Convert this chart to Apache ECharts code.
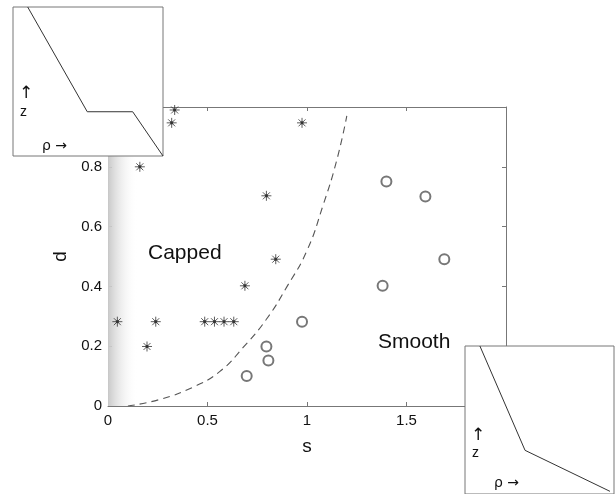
<!DOCTYPE html>
<html>
<head>
<meta charset="utf-8">
<script src="https://cdn.jsdelivr.net/npm/echarts@6/dist/echarts.min.js"></script>
<style>
  html, body { margin: 0; padding: 0; background: #fff; }
  #chart { width: 615px; height: 494px; }
</style>
</head>
<body>
<div id="chart"></div>
<script>
// Regime map: capped (*) vs smooth (o) profiles in the (s, d) plane
var starS = [0.335, 0.32, 0.16, 0.975, 0.796, 0.843, 0.688, 0.047, 0.24, 0.196, 0.486, 0.535, 0.583, 0.632];
var starD = [0.99, 0.947, 0.80, 0.947, 0.703, 0.491, 0.402, 0.282, 0.282, 0.199, 0.282, 0.282, 0.282, 0.282];
var circleS = [0.975, 0.796, 0.806, 0.697, 1.399, 1.595, 1.69, 1.38];
var circleD = [0.282, 0.199, 0.152, 0.10, 0.751, 0.701, 0.491, 0.402];

// Dashed regime boundary, sampled along the curve
var boundaryS = [0.10, 0.26, 0.427, 0.561, 0.678, 0.796, 0.90, 1.00, 1.08, 1.148, 1.20];
var boundaryD = [0.0, 0.022, 0.063, 0.115, 0.195, 0.29, 0.40, 0.52, 0.67, 0.818, 0.97];

// Shaded strip near s = 0
var shadeStart = 0;
var shadeEnd = 0.15;

// Axis ticks
var xTicks = ['0', '0.5', '1', '1.5', '2'];
var yTicks = ['0', '0.2', '0.4', '0.6', '0.8', '1'];

// Inset profiles z(rho), normalised to the inset box
var cappedRho = [0.098, 0.495, 0.798, 1.0];
var cappedZ = [1.0, 0.297, 0.297, 0.0];
var smoothRho = [0.10, 0.403, 0.973];
var smoothZ = [1.0, 0.295, 0.018];

function zip(a, b) { return a.map(function (v, i) { return [v, b[i]]; }); }

var FONT = 'Liberation Sans';
var AXIS = '#777';
var INK = '#111';

var starPath = 'path://M5,0L5,10M0,5L10,5M1.5,1.5L8.5,8.5M8.5,1.5L1.5,8.5M4,4L6,4L6,6L4,6Z';

var chart = echarts.init(document.getElementById('chart'), null, { renderer: 'canvas' });

var insetAxisX = function (g) { return { gridIndex: g, type: 'value', min: 0, max: 1, show: false }; };
var insetAxisY = function (g) { return { gridIndex: g, type: 'value', min: 0, max: 1, show: false }; };

var boxLine = { show: true, onZero: false, lineStyle: { color: AXIS, width: 1 } };
var boxTick = { show: true, inside: true, length: 4, lineStyle: { color: AXIS } };

chart.setOption({
  animation: false,
  backgroundColor: '#fff',
  textStyle: { fontFamily: FONT },
  grid: [
    { left: 108, top: 107, width: 398, height: 299, show: false },
    { left: 13, top: 7, width: 150, height: 149, show: true, backgroundColor: '#fff', borderColor: AXIS, borderWidth: 1, z: 10 },
    { left: 465, top: 346, width: 149, height: 150, show: true, backgroundColor: '#fff', borderColor: AXIS, borderWidth: 1, z: 10 }
  ],
  xAxis: [
    {
      gridIndex: 0, type: 'value', min: 0, max: 2, interval: 0.5, position: 'bottom',
      name: 's', nameLocation: 'middle', nameGap: 31,
      nameTextStyle: { fontSize: 19, color: INK, fontFamily: FONT },
      axisLine: boxLine, axisTick: boxTick,
      axisLabel: { fontSize: 15, color: INK, margin: 7, fontFamily: FONT,
        formatter: function (v) { return xTicks[Math.round(v / 0.5)]; } },
      splitLine: { show: false }
    },
    {
      gridIndex: 0, type: 'value', min: 0, max: 2, interval: 0.5, position: 'top',
      axisLine: boxLine, axisTick: boxTick,
      axisLabel: { show: false }, splitLine: { show: false }
    },
    insetAxisX(1), insetAxisX(2)
  ],
  yAxis: [
    {
      gridIndex: 0, type: 'value', min: 0, max: 1, interval: 0.2, position: 'left',
      name: 'd', nameLocation: 'middle', nameGap: 37, nameRotate: 90,
      nameTextStyle: { fontSize: 19, color: INK, fontFamily: FONT },
      axisLine: boxLine, axisTick: boxTick,
      axisLabel: { fontSize: 15, color: INK, margin: 6, fontFamily: FONT,
        formatter: function (v) { return yTicks[Math.round(v / 0.2)]; } },
      splitLine: { show: false }
    },
    {
      gridIndex: 0, type: 'value', min: 0, max: 1, interval: 0.2, position: 'right',
      axisLine: boxLine, axisTick: boxTick,
      axisLabel: { show: false }, splitLine: { show: false }
    },
    insetAxisY(1), insetAxisY(2)
  ],
  series: [
    {
      name: 'boundary', type: 'line', xAxisIndex: 0, yAxisIndex: 0,
      data: zip(boundaryS, boundaryD), smooth: 0.5, symbol: 'none', z: 3,
      lineStyle: { color: '#555', width: 1.1, type: [7, 5] },
      markArea: {
        silent: true,
        itemStyle: {
          color: new echarts.graphic.LinearGradient(0, 0, 1, 0, [
            { offset: 0, color: '#c9c9c9' },
            { offset: 1, color: 'rgba(255,255,255,0)' }
          ])
        },
        data: [[{ xAxis: shadeStart }, { xAxis: shadeEnd }]]
      }
    },
    {
      name: 'capped', type: 'scatter', xAxisIndex: 0, yAxisIndex: 0,
      data: zip(starS, starD), symbol: starPath, symbolSize: 10, z: 4,
      itemStyle: { color: '#222', borderColor: '#333', borderWidth: 1 }
    },
    {
      name: 'smooth', type: 'scatter', xAxisIndex: 0, yAxisIndex: 0,
      data: zip(circleS, circleD), symbol: 'emptyCircle', symbolSize: 10, z: 4,
      itemStyle: { color: '#555', borderColor: '#555', borderWidth: 1.2 }
    },
    {
      name: 'cappedProfile', type: 'line', xAxisIndex: 2, yAxisIndex: 2,
      data: zip(cappedRho, cappedZ), symbol: 'none', z: 12,
      lineStyle: { color: '#333', width: 1 }
    },
    {
      name: 'smoothProfile', type: 'line', xAxisIndex: 3, yAxisIndex: 3,
      data: zip(smoothRho, smoothZ), symbol: 'none', z: 12,
      lineStyle: { color: '#333', width: 1 }
    }
  ],
  graphic: [
    { type: 'text', z: 100, left: 148, top: 243, style: { text: 'Capped', font: '21px "Liberation Sans"', fill: INK } },
    { type: 'text', z: 100, left: 378, top: 332, style: { text: 'Smooth', font: '21px "Liberation Sans"', fill: INK } },
    { type: 'text', z: 100, left: 19, top: 85, style: { text: '↑', font: '17px "DejaVu Sans"', fill: INK } },
    { type: 'text', z: 100, left: 20, top: 105, style: { text: 'z', font: '14px "Liberation Sans"', fill: INK } },
    { type: 'text', z: 100, left: 42, top: 139, style: { text: 'ρ →', font: '14px "DejaVu Sans"', fill: INK } },
    { type: 'text', z: 100, left: 471, top: 427, style: { text: '↑', font: '17px "DejaVu Sans"', fill: INK } },
    { type: 'text', z: 100, left: 472, top: 446, style: { text: 'z', font: '14px "Liberation Sans"', fill: INK } },
    { type: 'text', z: 100, left: 494, top: 476, style: { text: 'ρ →', font: '14px "DejaVu Sans"', fill: INK } }
  ]
});
</script>
</body>
</html>
